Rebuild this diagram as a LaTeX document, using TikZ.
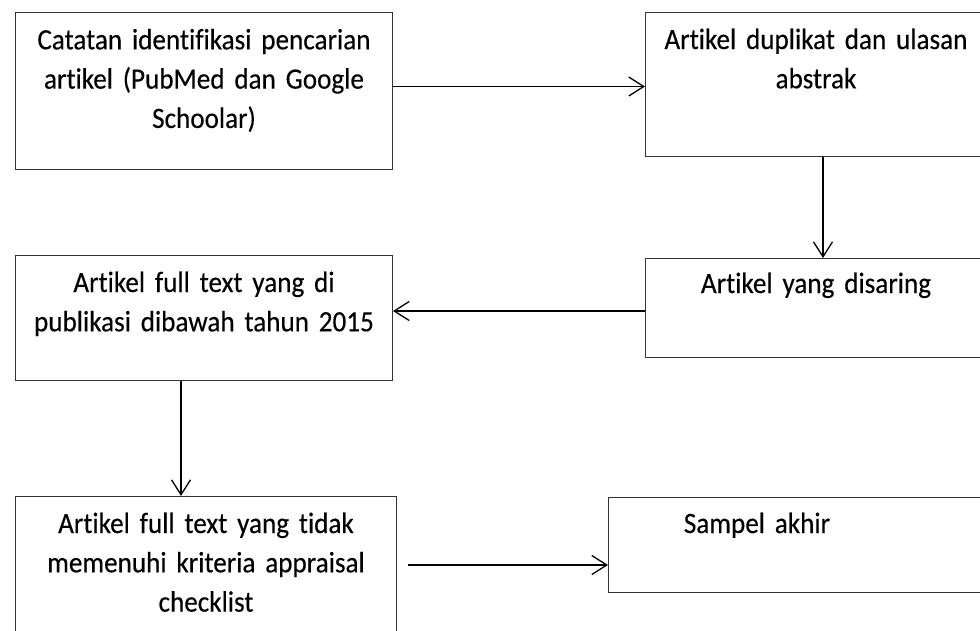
\documentclass[tikz,border=0pt]{standalone}
\usepackage{fontspec}
\setmainfont{Carlito}[FakeStretch=0.92, WordSpace=0.6, Ligatures=NoCommon, FakeBold=0.25]
\usetikzlibrary{arrows.meta}
\begin{document}
\begin{tikzpicture}[x=1pt,y=-1pt,
  box/.style={draw=black!80, line width=1pt, rectangle, inner sep=0pt, anchor=north west},
  txt/.style={anchor=base, inner sep=0pt, align=center, font=\fontsize{29.5}{39.3}\selectfont},
  arr/.style={draw=black, line width=1.3pt, -{Straight Barb[length=15pt,width=19pt,line width=1.3pt]}}
]
\useasboundingbox (0,0) rectangle (980,630);
\clip (0,0) rectangle (980,630);
\fill[white] (0,0) rectangle (980,630);
% boxes
\node[box, minimum width=377pt, minimum height=157pt] (b1) at (15,12) {};
\node[box, minimum width=355pt, minimum height=144pt] (b2) at (645,12) {};
\node[box, minimum width=355pt, minimum height=99pt] (b3) at (645,258) {};
\node[box, minimum width=377pt, minimum height=125pt] (b4) at (15,255) {};
\node[box, minimum width=381pt, minimum height=170pt] (b5) at (15,496) {};
\node[box, minimum width=392pt, minimum height=95pt] (b6) at (608,497) {};
% texts
\node[txt, text width=377pt] (t1) at ([yshift=-37.3pt]b1.north) {Catatan identifikasi pencarian\\artikel (PubMed dan Google\\Schoolar)};
\node[txt, text width=340pt] (t2) at ([xshift=-7pt,yshift=-37pt]b2.north) {Artikel duplikat dan ulasan\\abstrak};
\node[txt, text width=340pt] (t3) at ([xshift=-7pt,yshift=-35pt]b3.north) {Artikel yang disaring};
\node[txt, text width=377pt] (t4) at ([yshift=-37pt]b4.north) {Artikel full text yang di\\publikasi dibawah tahun 2015};
\node[txt, text width=381pt] (t5) at ([yshift=-37pt]b5.north) {Artikel full text yang tidak\\memenuhi kriteria appraisal\\checklist};
\node[txt, text width=300pt] (t6) at ([xshift=149pt,yshift=-36pt]b6.north west) {Sampel akhir};
% arrows
\draw[arr] ([yshift=-74.5pt]b1.north east) -- ([yshift=-74.5pt]b2.north west);
\draw[arr] (b2.south) -- (b3.north);
\draw[arr] ([yshift=-53pt]b3.north west) -- ([yshift=-56pt]b4.north east);
\draw[arr] ([xshift=166pt]b4.south west) -- ([xshift=166pt]b5.north west);
\draw[arr, shorten <=11pt] ([yshift=-69pt]b5.north east) -- ([yshift=-68pt]b6.north west);
\end{tikzpicture}
\end{document}
